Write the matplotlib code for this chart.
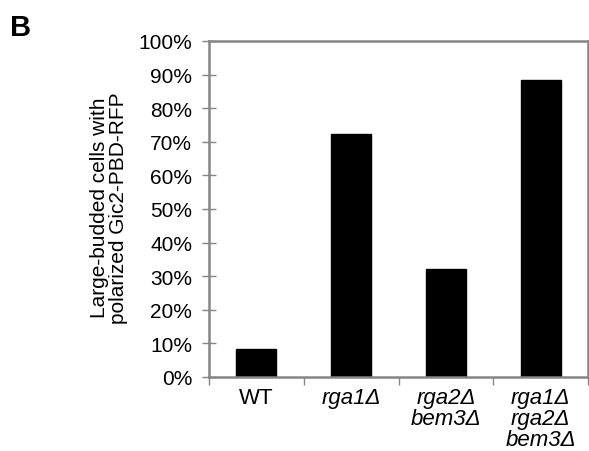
import matplotlib
matplotlib.use("Agg")
import matplotlib.pyplot as plt
from matplotlib.ticker import FixedLocator, NullFormatter

plt.rcParams['font.family'] = ['Liberation Sans', 'DejaVu Sans']

categories = ["WT", "rga1Δ", "rga2Δ\nbem3Δ", "rga1Δ\nrga2Δ\nbem3Δ"]
italic_flags = [False, True, True, True]
values = [8.3, 72.3, 32.1, 88.4]
ytick_values = [0, 10, 20, 30, 40, 50, 60, 70, 80, 90, 100]
ytick_labels = [f"{v}%" for v in ytick_values]
ylabel_text = "Large-budded cells with\npolarized Gic2-PBD-RFP"
panel_letter = "B"

W, H = 589, 452
fig = plt.figure(figsize=(W / 100, H / 100), dpi=100)
ax = fig.add_axes([209 / W, 1 - 378 / H, (588 - 209) / W, (378 - 42) / H])

x = [i + 0.5 for i in range(len(categories))]
ax.bar(x, values, width=0.42, color="black", edgecolor="black")

ax.set_xlim(0, len(categories))
ax.set_ylim(0, 100)

spine_color = "#858585"
for s in ax.spines.values():
    s.set_color(spine_color)
    s.set_linewidth(1.8)

ax.set_yticks(ytick_values)
ax.set_yticklabels(ytick_labels, fontsize=15)
ax.tick_params(axis="y", direction="inout", length=10, width=1.0,
               color=spine_color, pad=7)

# category labels at bar centres, tick marks at category boundaries
ax.set_xticks(x)
ax.set_xticklabels(categories, fontsize=16, linespacing=1.02)
ax.tick_params(axis="x", which="major", length=0, pad=7)
for lbl, it in zip(ax.get_xticklabels(), italic_flags):
    lbl.set_fontstyle("italic" if it else "normal")
    lbl.set_multialignment("center")
ax.xaxis.set_minor_locator(FixedLocator(list(range(len(categories) + 1))))
ax.xaxis.set_minor_formatter(NullFormatter())
ax.tick_params(axis="x", which="minor", direction="out", length=6,
               width=1.0, color=spine_color)

fig.text(109 / W, 1 - 208 / H, ylabel_text, rotation=90, fontsize=15,
         ha="center", va="center", multialignment="center", linespacing=1.05)

fig.text(10 / W, 1 - 36 / H, panel_letter, fontsize=21, fontweight="bold",
         ha="left", va="baseline")

fig.savefig("out.png", dpi=100)
